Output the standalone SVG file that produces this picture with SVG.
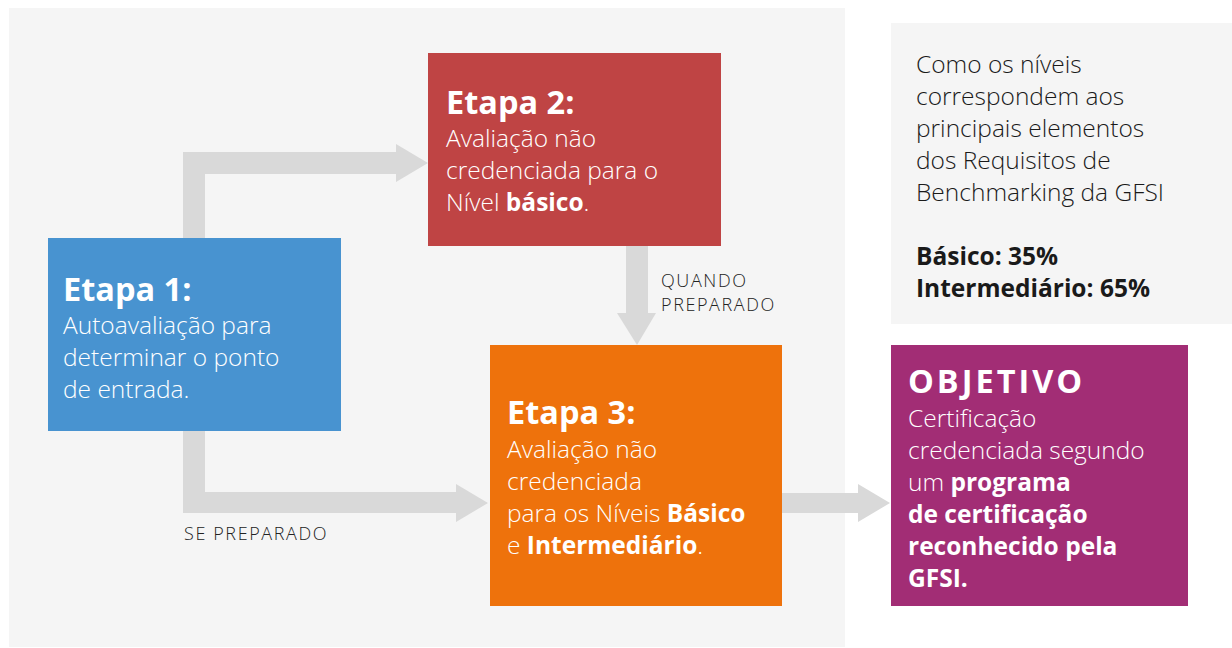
<svg xmlns="http://www.w3.org/2000/svg" width="1232" height="648" viewBox="0 0 1232 648">
<style>
.t{font-family:"Open Sans","Liberation Sans",sans-serif;}
.title{font-size:32.5px;font-weight:700;fill:#fff;}
.body{font-size:24.5px;font-weight:300;fill:#fff;}
.info{font-size:24.5px;font-weight:300;fill:#1a1a1a;}
.lbl{font-size:18px;font-weight:300;fill:#222;letter-spacing:1.6px;}
.t .b,.t.b{font-weight:700;}
.arr{fill:#d9d9d9;}
</style>
<rect x="9" y="8" width="836" height="639" fill="#f5f5f5"/>
<g id="connectors">
<path class="arr" d="M183,238 V152 H396 V144 L428,163 L396,182 V174 H205 V238 Z"/>
<path class="arr" d="M183,431 V513 H456 V522 L488,503 L456,484 V492 H205 V431 Z"/>
<path class="arr" d="M626,246 H648 V313 H656 L637,345 L617,313 H626 Z"/>
<path class="arr" d="M782,493 H858 V484 L890,503 L858,522 V513 H782 Z"/>
</g>
<g id="info">
<rect x="891" y="23" width="341" height="301" fill="#f5f5f5"/>
<text class="t info" x="916" y="73">Como os níveis</text>
<text class="t info" x="916" y="105">correspondem aos</text>
<text class="t info" x="916" y="137">principais elementos</text>
<text class="t info" x="916" y="169">dos Requisitos de</text>
<text class="t info" x="916" y="201">Benchmarking da GFSI</text>
<text class="t info b" x="916" y="265" fill="#000" font-size="23.5">Básico: 35%</text>
<text class="t info b" x="916" y="297" fill="#000" font-size="23.5">Intermediário: 65%</text>
</g>
<g id="etapa2">
<rect x="428" y="53" width="293" height="193" fill="#bf4444"/>
<text class="t title" x="446" y="114">Etapa 2:</text>
<text class="t body" x="446" y="147">Avaliação não</text>
<text class="t body" x="446" y="179">credenciada para o</text>
<text class="t body" x="446" y="211">Nível <tspan class="b">básico</tspan>.</text>
</g>
<g id="etapa1">
<rect x="48" y="238" width="293" height="193" fill="#4893d0"/>
<text class="t title" x="63" y="301">Etapa 1:</text>
<text class="t body" x="63" y="334">Autoavaliação para</text>
<text class="t body" x="63" y="366">determinar o ponto</text>
<text class="t body" x="63" y="398">de entrada.</text>
</g>
<g id="etapa3">
<rect x="490" y="345" width="292" height="261" fill="#ee720c"/>
<text class="t title" x="507" y="424">Etapa 3:</text>
<text class="t body" x="507" y="458">Avaliação não</text>
<text class="t body" x="507" y="490">credenciada</text>
<text class="t body" x="507" y="522">para os Níveis <tspan class="b">Básico</tspan></text>
<text class="t body" x="507" y="554">e <tspan class="b">Intermediário</tspan>.</text>
</g>
<g id="objetivo">
<rect x="891" y="345" width="297" height="261" fill="#a22d75"/>
<text class="t title" x="908" y="393" letter-spacing="3">OBJETIVO</text>
<text class="t body" x="908" y="427">Certificação</text>
<text class="t body" x="908" y="459">credenciada segundo</text>
<text class="t body" x="908" y="491">um <tspan class="b">programa</tspan></text>
<text class="t body b" x="908" y="523" font-size="24">de certificação</text>
<text class="t body b" x="908" y="555" font-size="24">reconhecido pela</text>
<text class="t body b" x="908" y="587" font-size="24">GFSI.</text>
</g>
<g id="labels">
<text class="t lbl" x="661" y="287">QUANDO</text>
<text class="t lbl" x="661" y="311">PREPARADO</text>
<text class="t lbl" x="184" y="540">SE PREPARADO</text>
</g>
</svg>
